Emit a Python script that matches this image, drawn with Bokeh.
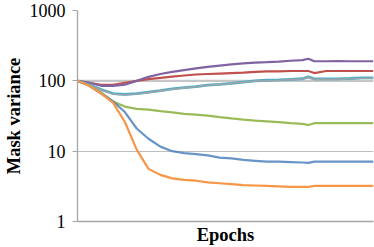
from bokeh.plotting import figure
from bokeh.models import Range1d, FixedTicker, Span
from bokeh.embed import file_html
from bokeh.resources import INLINE

# Epoch index (shared x for every series)
epochs = [0, 4, 8, 12, 16, 20, 24, 28, 32, 36, 40, 44, 48, 52, 56, 60, 64, 68,
          72, 76, 78, 80, 84, 88, 92, 96, 100]

purple = [100, 94, 85, 85, 88, 100, 114, 125, 134, 142, 150, 158, 165, 171,
          177, 181, 184, 188, 193, 197, 206, 190, 190, 191, 190, 190, 190]
red = [100, 94, 88, 88, 94, 100, 106, 110, 115, 119, 123, 125, 127, 129,
       131, 134, 136, 136, 138, 138, 138, 129, 138, 138, 138, 138, 138]
aqua = [100, 88, 75, 66, 64, 66, 69, 72.5, 77, 80, 83, 87, 89, 92,
        96, 100, 102, 103, 105, 107, 114, 106.5, 106.5, 106.5, 108, 110, 110]
grey = [100, 87, 74, 65, 63, 65, 68, 72, 76, 79.5, 82.5, 86.5, 88.5, 91.5,
        95.5, 99, 101, 102, 104, 106, 112, 105, 105, 105, 107, 109, 109]
green = [100, 85, 68, 51, 43, 40, 39, 37, 35.5, 34, 33, 32, 30.5, 29.2,
         28, 27.2, 26.5, 25.8, 25, 24.5, 23.5, 25, 25, 25, 25, 25, 25]
blue = [100, 85, 66, 51, 36, 21, 15, 11.6, 10, 9.4, 9.1, 8.7, 8.1, 7.9,
        7.5, 7.3, 7.1, 7.1, 7.0, 6.9, 6.8, 7.1, 7.1, 7.1, 7.1, 7.1, 7.1]
orange = [100, 85, 66, 49, 26, 10.5, 5.6, 4.6, 4.1, 3.9, 3.8, 3.6, 3.5, 3.4,
          3.3, 3.25, 3.2, 3.15, 3.1, 3.1, 3.1, 3.2, 3.2, 3.2, 3.2, 3.2, 3.2]

y_ticks = [1, 10, 100, 1000]
y_tick_labels = ["1", "10", "100", "1000"]

p = figure(width=374, height=247, y_axis_type="log",
           x_range=Range1d(0, 100), y_range=Range1d(1, 1000),
           output_backend="svg", toolbar_location=None,
           min_border_left=73, min_border_right=1, min_border_top=10,
           min_border_bottom=26)
p.outline_line_color = None
p.background_fill_color = "white"
p.border_fill_color = "white"

serif = "Liberation Serif"

# y axis
p.yaxis.ticker = FixedTicker(ticks=y_ticks)
p.yaxis.major_label_overrides = {t: s for t, s in zip(y_ticks, y_tick_labels)}
p.yaxis.minor_tick_line_color = None
p.yaxis.major_tick_out = 5
p.yaxis.major_tick_in = 0
p.yaxis.major_tick_line_color = "#A6A6A6"
p.yaxis.axis_line_color = "#A6A6A6"
p.yaxis.axis_line_width = 1.3
p.yaxis.major_label_text_font = serif
p.yaxis.major_label_text_font_size = "18px"
p.yaxis.major_label_text_color = "black"
p.yaxis.major_label_standoff = 7
p.yaxis.axis_label = "Mask variance"
p.yaxis.axis_label_text_font = serif
p.yaxis.axis_label_text_font_style = "bold"
p.yaxis.axis_label_text_font_size = "18.5px"
p.yaxis.axis_label_text_color = "black"
p.yaxis.axis_label_standoff = 3

# x axis
p.xaxis.ticker = FixedTicker(ticks=[])
p.xaxis.major_tick_line_color = None
p.xaxis.minor_tick_line_color = None
p.xaxis.major_tick_out = 0
p.xaxis.major_tick_in = 0
p.xaxis.major_label_standoff = 0
p.xaxis.major_label_text_font_size = "0px"
p.xaxis.axis_line_color = "#A6A6A6"
p.xaxis.axis_line_width = 1.3
p.xaxis.axis_label = "Epochs"
p.xaxis.axis_label_text_font = serif
p.xaxis.axis_label_text_font_style = "bold"
p.xaxis.axis_label_text_font_size = "18.5px"
p.xaxis.axis_label_text_color = "black"
p.xaxis.axis_label_standoff = 3

p.xgrid.grid_line_color = None
p.ygrid.grid_line_color = "#BDBDBD"
p.ygrid.grid_line_width = 1

p.add_layout(Span(location=100, dimension="width", line_color="#C6C6C6",
                  line_width=2.2, level="underlay"))

lw = 2.2
p.line(epochs, red, line_color="#C0504D", line_width=lw)
p.line(epochs, purple, line_color="#8064A2", line_width=lw)
p.line(epochs, aqua, line_color="#4BACC6", line_width=lw + 0.6)
p.line(epochs, grey, line_color="#9AA6AB", line_width=1.6)
p.line(epochs, green, line_color="#9BBB59", line_width=lw)
p.line(epochs, blue, line_color="#4F81BD", line_width=lw, line_alpha=0.85)
p.line(epochs, orange, line_color="#F79646", line_width=lw)

open("out.html", "w").write(file_html(p, INLINE))
